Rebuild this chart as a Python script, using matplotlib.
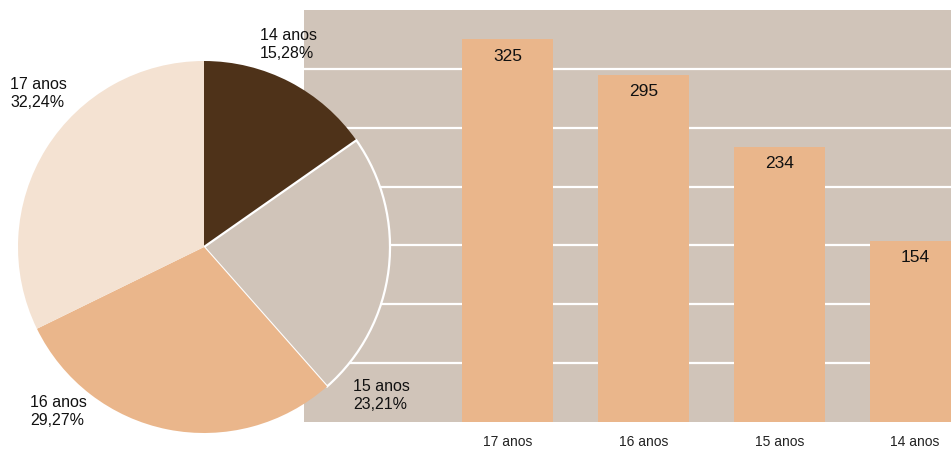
import numpy as np
import matplotlib
matplotlib.use("Agg")
import matplotlib.pyplot as plt
from matplotlib import font_manager

# Data: students by age (bar order left -> right)
ages = ["17 anos", "16 anos", "15 anos", "14 anos"]
counts = [325, 295, 234, 154]

# pie goes clockwise from 12 o'clock, starting with the youngest
pie_ages = ["14 anos", "15 anos", "16 anos", "17 anos"]
pie_counts = [154, 234, 295, 325]

# colours
c_dark = "#4e3219"
c_grey = "#d0c4b9"
c_tan = "#eab68b"
c_light = "#f4e2d2"
pie_colors = [c_dark, c_grey, c_tan, c_light]

W, H = 951, 449
names = {f.name for f in font_manager.fontManager.ttflist}
narrow = "Liberation Sans Narrow" if "Liberation Sans Narrow" in names else "Liberation Sans"
plt.rcParams["font.family"] = ["Liberation Sans", "DejaVu Sans"]


def fx(px):
    return px / W


def fy(py):
    return 1 - py / H


fig = plt.figure(figsize=(W / 100, H / 100), dpi=100)

# ---- bar chart (sits behind the pie) ----
ax = fig.add_axes([fx(304), fy(422), fx(W - 304), (422 - 10) / H])
ax.set_facecolor(c_grey)
x = np.arange(len(ages))
bars = ax.bar(x, counts, width=0.67, color=c_tan, zorder=3)
ax.set_ylim(0, 350)
ax.set_xlim(-1.503, 3.265)
ax.set_yticks(np.arange(50, 350, 50))
ax.yaxis.grid(True, color="white", linewidth=1.6, zorder=1)
ax.set_axisbelow(True)
ax.tick_params(axis="y", left=False, labelleft=False)
ax.tick_params(axis="x", bottom=False, pad=6)
ax.set_xticks(x)
ax.set_xticklabels(ages, family=narrow, fontsize=10, color="#222222")
for s in ax.spines.values():
    s.set_visible(False)
for b, v in zip(bars, counts):
    ax.annotate(str(v), (b.get_x() + b.get_width() / 2, v),
                xytext=(0, -17), textcoords="offset pixels",
                ha="center", va="center", fontsize=12.5, color="#111111", zorder=4)

# ---- pie chart ----
pax = fig.add_axes([fx(18), fy(247 + 186), 372 / W, 372 / H])
wedges, _ = pax.pie(pie_counts, colors=pie_colors, startangle=90,
                    counterclock=False, radius=1,
                    wedgeprops=dict(linewidth=0))
# only the grey slice gets a white outline
wedges[1].set_edgecolor("white")
wedges[1].set_linewidth(1.6)
pax.set_xlim(-1, 1)
pax.set_ylim(-1, 1)
pax.set_aspect("equal")
pax.patch.set_alpha(0)
for w in wedges:
    w.set_clip_on(False)

total = sum(pie_counts)
# label anchor (left x, baseline of first line) in pixels
label_pos = {"14 anos": (260, 40), "15 anos": (353, 391),
             "16 anos": (30, 407), "17 anos": (10, 89)}
for a, v in zip(pie_ages, pie_counts):
    pct = f"{100 * v / total:.2f}%".replace(".", ",")
    lx, ly = label_pos[a]
    fig.text(fx(lx), fy(ly), a, ha="left", va="baseline", fontsize=11.5, color="#111111")
    fig.text(fx(lx), fy(ly + 18), pct, ha="left", va="baseline", fontsize=11.5, color="#111111")

fig.savefig("out.png", dpi=100)
